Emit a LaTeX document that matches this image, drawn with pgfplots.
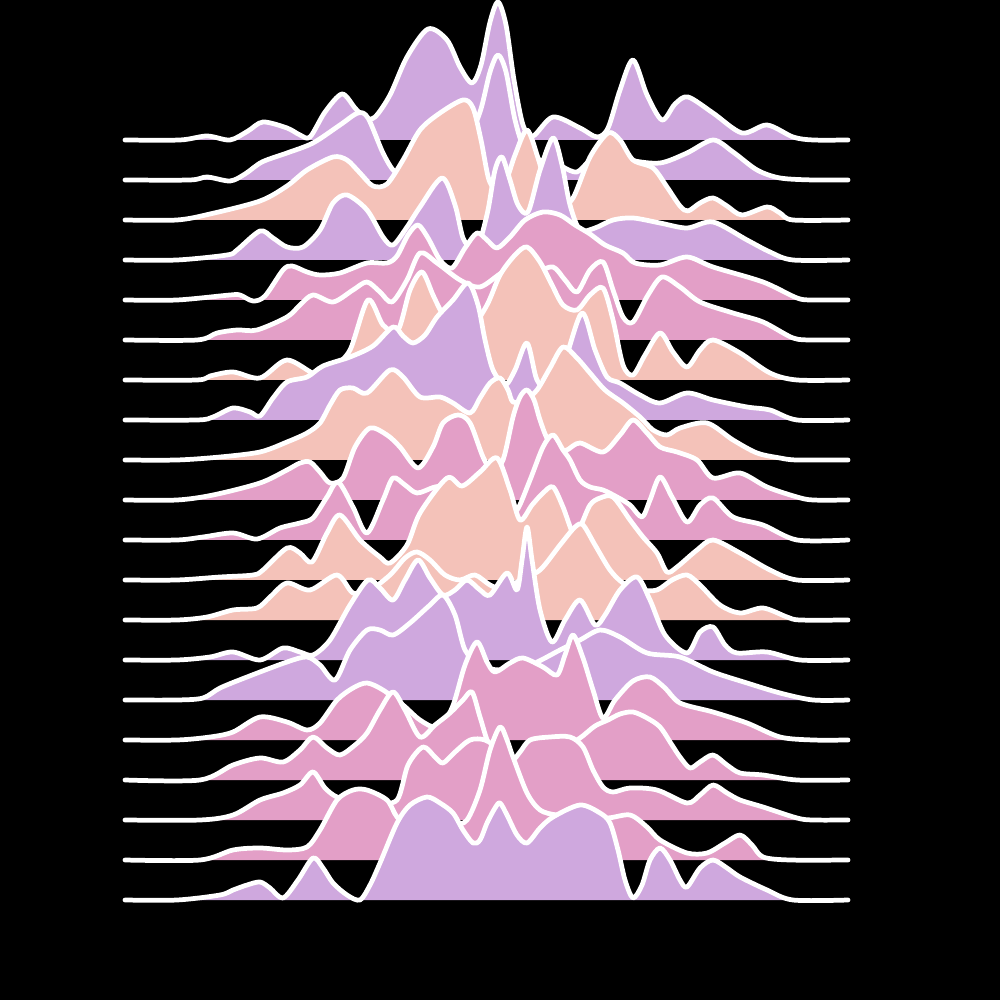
\documentclass[border=0pt]{standalone}
\usepackage{pgfplots}
\pgfplotsset{compat=1.18}
\definecolor{lav}{RGB}{207,168,222}
\definecolor{peach}{RGB}{244,194,185}
\definecolor{pink}{RGB}{227,159,199}
\pgfplotsset{ridge/.style={smooth, draw=white, line width=1.35pt, line join=round, line cap=round, fill=#1}}
\begin{document}
\begin{tikzpicture}
\useasboundingbox (0,0) rectangle (10cm,10cm);
\fill[black] (-2mm,-2mm) rectangle (10.2cm,10.2cm);
\begin{axis}[at={(0,0)}, anchor=south west, width=10cm, height=10cm, scale only axis,
  xmin=0, xmax=1000, ymin=0, ymax=1000, y dir=reverse, hide axis, clip=false]
% ridge 0, baseline 140
\addplot[ridge=lav] coordinates {(125,140) (180,140) (207,136) (230,140) (248,131) (263,122) (287,128) (300,135) (310,137) (325,112) (342,94) (355,108) (365,118) (375,117) (390,95) (407,57) (428,29) (447,40) (460,67) (472,83) (481,65) (490,22) (498,2) (506,25) (514,80) (523,125) (533,136) (553,117) (580,128) (597,137) (608,128) (620,90) (633,60) (647,95) (662,120) (675,104) (688,97) (713,113) (742,133) (767,125) (793,137) (813,140) (848,140)};
% ridge 1, baseline 180
\addplot[ridge=lav] coordinates {(125,180) (190,180) (207,177) (230,181) (245,174) (262,162) (287,153) (313,143) (340,125) (358,113) (368,118) (383,153) (395,172) (410,176) (440,168) (465,145) (480,112) (490,72) (498,55) (506,72) (515,120) (525,150) (540,160) (553,160) (563,167) (577,172) (590,160) (605,150) (630,160) (660,163) (687,153) (713,140) (733,152) (757,170) (780,178) (813,180) (848,180)};
% ridge 2, baseline 220
\addplot[ridge=peach] coordinates {(125,220) (177,220) (210,214) (260,201) (287,186) (307,170) (333,157) (347,160) (360,173) (373,186) (387,184) (403,160) (420,130) (440,113) (463,100) (473,108) (481,140) (489,180) (498,190) (507,178) (515,155) (527,130) (538,158) (547,188) (560,205) (573,198) (590,157) (608,133) (620,140) (633,160) (653,168) (667,187) (680,206) (688,211) (700,203) (713,198) (727,206) (742,215) (767,207) (780,213) (793,220) (848,220)};
% ridge 3, baseline 260
\addplot[ridge=lav] coordinates {(125,260) (177,260) (227,255) (237,250) (260,231) (273,238) (287,247) (303,247) (320,230) (333,203) (347,195) (367,210) (383,237) (393,245) (407,227) (420,207) (442,178) (455,205) (463,238) (472,248) (480,240) (488,210) (495,170) (502,157) (510,180) (518,205) (528,212) (540,170) (553,138) (562,165) (570,205) (580,230) (595,228) (613,220) (633,218) (660,223) (687,228) (713,222) (747,240) (770,252) (793,260) (848,260)};
% ridge 4, baseline 300
\addplot[ridge=pink] coordinates {(125,300) (177,300) (230,295) (240,295) (253,301) (265,296) (283,270) (292,266) (307,272) (320,275) (340,273) (367,263) (387,263) (397,256) (408,235) (418,225) (428,238) (440,260) (452,268) (465,248) (477,233) (487,240) (497,248) (510,237) (525,220) (543,212) (560,215) (575,225) (590,234) (605,245) (623,253) (635,263) (660,265) (687,257) (713,267) (763,282) (797,298) (813,300) (848,300)};
% ridge 5, baseline 340
\addplot[ridge=pink] coordinates {(125,340) (197,340) (217,333) (237,330) (257,330) (287,317) (300,305) (313,295) (333,302) (353,290) (367,282) (380,292) (392,302) (407,280) (420,253) (437,263) (460,280) (480,287) (503,272) (520,268) (535,272) (553,267) (565,280) (577,292) (590,270) (603,262) (613,290) (623,317) (633,322) (648,295) (662,277) (680,287) (700,302) (733,313) (763,322) (793,338) (813,340) (848,340)};
% ridge 6, baseline 380
\addplot[ridge=peach] coordinates {(125,380) (197,380) (210,376) (233,372) (260,378) (287,360) (317,375) (333,367) (350,350) (368,300) (383,325) (398,330) (410,290) (422,272) (433,295) (442,313) (455,330) (470,330) (487,305) (500,275) (515,255) (527,247) (540,262) (552,285) (563,305) (577,310) (590,295) (603,288) (613,320) (623,365) (633,375) (645,355) (660,333) (673,352) (687,367) (700,350) (713,340) (740,353) (770,373) (797,380) (848,380)};
% ridge 7, baseline 420
\addplot[ridge=lav] coordinates {(125,420) (197,420) (213,417) (233,408) (250,412) (260,416) (273,398) (287,382) (307,377) (323,366) (350,357) (373,346) (393,327) (403,336) (413,343) (425,335) (437,317) (453,300) (468,283) (478,305) (485,340) (493,370) (505,385) (515,370) (527,343) (537,380) (550,390) (565,360) (582,313) (595,350) (607,377) (620,383) (640,395) (660,403) (687,393) (713,400) (747,407) (770,410) (797,420) (848,420)};
% ridge 8, baseline 460
\addplot[ridge=peach] coordinates {(125,460) (177,460) (220,457) (260,452) (287,442) (307,433) (320,423) (330,405) (340,390) (353,388) (367,393) (390,370) (403,377) (420,397) (440,397) (453,403) (470,413) (480,398) (490,383) (500,378) (508,390) (513,402) (525,400) (537,390) (550,368) (563,347) (577,358) (590,373) (605,390) (623,403) (640,417) (653,430) (667,435) (680,428) (707,423) (733,440) (757,453) (780,458) (797,460) (848,460)};
% ridge 9, baseline 500
\addplot[ridge=pink] coordinates {(125,500) (177,500) (213,495) (260,483) (287,470) (300,463) (310,462) (320,472) (330,483) (343,478) (355,447) (370,428) (387,435) (400,447) (418,468) (433,447) (443,423) (458,415) (470,423) (483,457) (492,470) (503,460) (513,417) (520,397) (527,390) (534,400) (540,420) (548,440) (560,450) (567,450) (580,443) (603,452) (620,435) (633,420) (647,433) (660,447) (677,452) (697,460) (713,478) (740,473) (767,487) (797,497) (813,500) (848,500)};
% ridge 10, baseline 540
\addplot[ridge=pink] coordinates {(125,540) (177,540) (203,537) (233,533) (257,539) (280,528) (300,523) (313,518) (327,497) (338,482) (353,507) (367,533) (383,500) (393,478) (405,485) (417,493) (435,487) (455,485) (475,492) (495,502) (508,506) (517,510) (530,480) (543,447) (553,435) (563,450) (570,460) (580,480) (590,487) (603,490) (617,497) (630,505) (642,517) (650,500) (660,477) (672,497) (687,522) (700,505) (713,498) (733,517) (763,525) (797,540) (848,540)};
% ridge 11, baseline 580
\addplot[ridge=peach] coordinates {(125,580) (177,580) (220,577) (253,575) (263,570) (287,548) (300,553) (312,562) (327,533) (340,515) (360,540) (380,557) (390,563) (407,545) (420,513) (447,478) (462,486) (480,472) (497,458) (510,490) (520,520) (532,505) (543,493) (553,487) (563,507) (573,533) (580,527) (590,505) (600,498) (613,497) (630,520) (643,537) (657,553) (667,572) (677,567) (697,550) (713,540) (740,553) (770,570) (797,580) (848,580)};
% ridge 12, baseline 620
\addplot[ridge=peach] coordinates {(125,620) (177,620) (207,617) (233,610) (257,608) (270,597) (287,583) (310,590) (337,575) (353,593) (370,590) (390,575) (405,558) (417,552) (430,560) (445,575) (460,580) (475,575) (490,585) (505,590) (520,580) (540,570) (560,545) (575,527) (583,525) (595,545) (610,570) (623,583) (640,590) (657,590) (672,580) (687,575) (700,585) (720,605) (740,613) (763,608) (787,617) (800,620) (848,620)};
% ridge 13, baseline 660
\addplot[ridge=lav] coordinates {(125,660) (177,660) (210,657) (233,652) (260,660) (283,648) (300,652) (313,655) (330,640) (350,605) (368,580) (380,588) (393,600) (405,580) (418,560) (430,578) (443,595) (455,590) (467,580) (480,590) (490,595) (507,573) (517,590) (522,560) (527,527) (532,560) (540,610) (552,642) (565,620) (580,600) (595,625) (605,615) (620,590) (637,577) (650,600) (665,635) (687,653) (700,632) (713,627) (725,645) (737,653) (767,652) (800,660) (848,660)};
% ridge 14, baseline 700
\addplot[ridge=lav] coordinates {(125,700) (177,700) (203,698) (220,688) (247,677) (287,662) (307,657) (320,665) (335,680) (350,650) (367,630) (380,630) (393,635) (410,623) (430,605) (443,595) (455,615) (465,650) (480,665) (500,670) (530,665) (560,650) (580,640) (600,630) (620,637) (647,653) (680,657) (713,672) (747,683) (780,693) (813,700) (848,700)};
% ridge 15, baseline 740
\addplot[ridge=pink] coordinates {(125,740) (177,740) (210,737) (233,732) (260,717) (287,722) (307,730) (320,723) (337,700) (353,688) (367,683) (383,690) (403,705) (420,720) (437,727) (452,708) (465,665) (477,642) (487,662) (495,672) (510,663) (523,658) (543,667) (557,675) (565,655) (573,635) (583,658) (593,690) (603,718) (615,700) (633,681) (650,677) (665,688) (680,703) (713,712) (747,723) (780,737) (813,740) (848,740)};
% ridge 16, baseline 780
\addplot[ridge=pink] coordinates {(125,780) (200,780) (233,765) (260,758) (283,762) (300,750) (313,737) (327,748) (340,755) (355,745) (367,733) (380,710) (393,692) (405,710) (420,737) (435,725) (450,713) (463,700) (472,692) (480,717) (490,747) (505,760) (520,765) (540,760) (560,750) (580,738) (595,726) (608,720) (620,714) (633,712) (647,718) (660,727) (672,745) (680,757) (690,768) (700,762) (713,755) (727,765) (740,773) (763,775) (797,780) (848,780)};
% ridge 17, baseline 820
\addplot[ridge=pink] coordinates {(125,820) (200,820) (233,815) (260,800) (283,793) (300,785) (313,772) (325,788) (337,797) (355,800) (375,803) (397,800) (408,765) (423,747) (435,757) (443,763) (455,752) (470,740) (485,740) (500,750) (512,760) (520,752) (530,740) (550,737) (570,737) (583,747) (593,770) (603,787) (613,792) (630,788) (657,790) (687,803) (700,795) (713,785) (727,793) (740,800) (763,807) (797,818) (813,820) (848,820)};
% ridge 18, baseline 860
\addplot[ridge=pink] coordinates {(125,860) (200,860) (233,850) (260,848) (287,850) (307,847) (320,830) (337,800) (353,790) (367,790) (387,800) (397,817) (410,825) (430,828) (453,825) (467,820) (480,790) (490,750) (500,727) (507,740) (513,757) (527,793) (540,810) (557,815) (580,815) (607,818) (630,815) (647,827) (660,840) (687,853) (707,853) (725,843) (740,835) (752,845) (763,857) (790,860) (848,860)};
% ridge 19, baseline 900
\addplot[ridge=lav] coordinates {(125,900) (177,900) (220,895) (233,890) (247,885) (260,882) (270,888) (283,898) (298,880) (313,858) (323,868) (333,883) (347,895) (360,900) (370,885) (380,863) (397,823) (410,805) (427,797) (440,803) (453,813) (463,830) (473,843) (480,840) (487,823) (495,808) (500,803) (507,815) (517,835) (527,843) (540,828) (553,817) (580,805) (600,813) (610,823) (618,850) (625,880) (633,898) (642,885) (650,860) (660,848) (670,860) (680,880) (687,887) (700,868) (713,860) (727,868) (740,877) (767,890) (793,900) (848,900)};
\end{axis}
\end{tikzpicture}
\end{document}
